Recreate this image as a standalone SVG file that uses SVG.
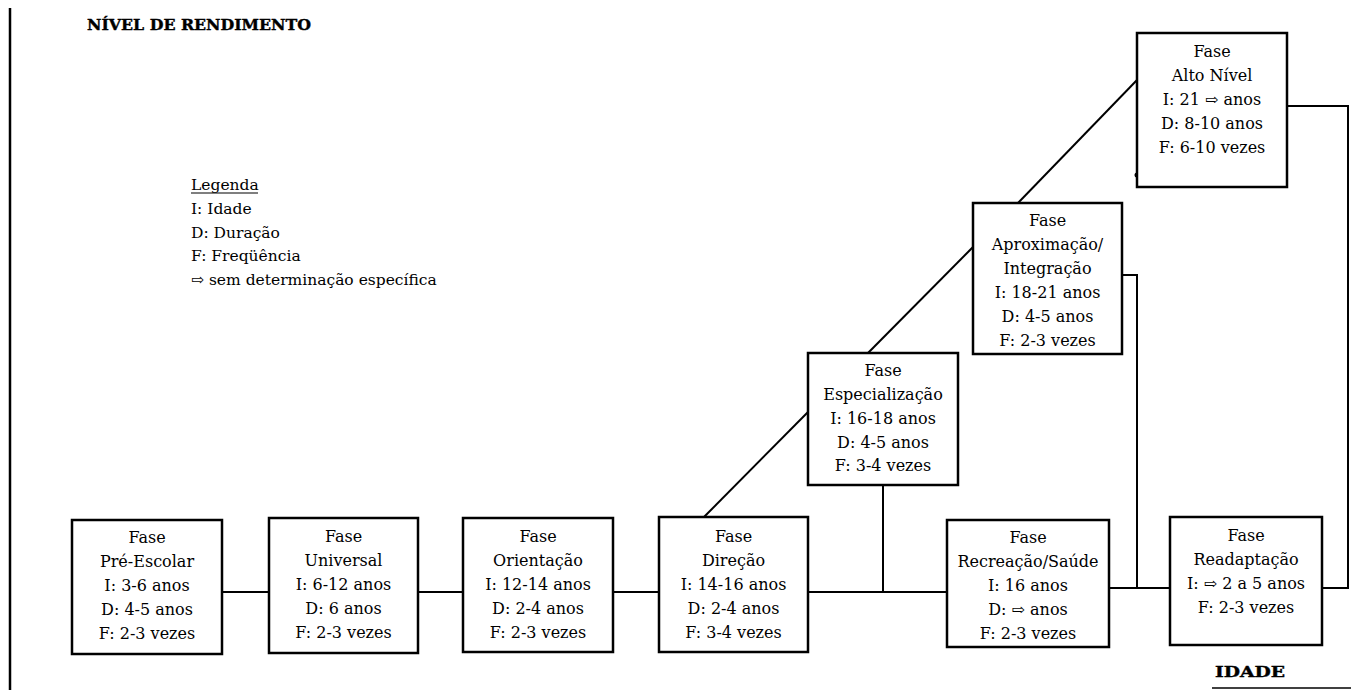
<svg xmlns="http://www.w3.org/2000/svg" width="1351" height="691" viewBox="0 0 1351 691">
<style>
.bg{fill:#ffffff}
.box{fill:#ffffff;stroke:#000;stroke-width:2.5}
.t{font-family:"DejaVu Serif","Liberation Serif",serif;font-size:16px;fill:#000;text-anchor:middle}
.lg{font-family:"DejaVu Serif","Liberation Serif",serif;font-size:15.5px;fill:#000}
.hd{font-family:"DejaVu Serif","Liberation Serif",serif;font-weight:bold;font-size:15px;fill:#000;stroke:#000;stroke-width:0.4}
.c{fill:none;stroke:#000;stroke-width:2}
.ax{fill:none;stroke:#000;stroke-width:2.5}
</style>
<rect class="bg" x="0" y="0" width="1351" height="691"/>
<g id="axes">
  <line class="ax" x1="10" y1="8" x2="10" y2="690"/>
  <text class="hd" x="87" y="30" textLength="224" lengthAdjust="spacingAndGlyphs">NÍVEL DE RENDIMENTO</text>
  <text class="hd" x="1215" y="677" textLength="70" lengthAdjust="spacingAndGlyphs">IDADE</text>
  <line x1="1212" y1="688" x2="1351" y2="688" stroke="#000" stroke-width="1.5"/>
</g>
<g id="legend">
  <text class="lg" x="191" y="190">Legenda</text>
  <line x1="191" y1="193" x2="258" y2="193" stroke="#000" stroke-width="1.2"/>
  <text class="lg" x="191" y="214">I: Idade</text>
  <text class="lg" x="191" y="238">D: Duração</text>
  <text class="lg" x="191" y="261">F: Freqüência</text>
  <text class="lg" x="191" y="285">⇨ sem determinação específica</text>
</g>
<g id="connectors">
  <path class="c" d="M222,592 H269"/>
  <path class="c" d="M418,592 H463"/>
  <path class="c" d="M613,592 H659"/>
  <path class="c" d="M808,592 H947"/>
  <path class="c" d="M883,485 V592"/>
  <path class="c" d="M1109,588 H1170"/>
  <path class="c" d="M1122,275 H1137 V588"/>
  <path class="c" d="M704,517 L808,412"/>
  <path class="c" d="M868,353 L973,247"/>
  <path class="c" d="M1018,203 L1137,80"/>
  <path class="c" d="M1287,106 H1348 V588 H1322"/>
  <circle cx="1137" cy="175" r="2.5" fill="#000"/>
</g>
<g id="fase-pre-escolar">
  <rect class="box" x="72" y="520" width="150" height="134"/>
  <text class="t" x="147" y="543">Fase</text>
  <text class="t" x="147" y="567">Pré-Escolar</text>
  <text class="t" x="147" y="591">I: 3-6 anos</text>
  <text class="t" x="147" y="615">D: 4-5 anos</text>
  <text class="t" x="147" y="639">F: 2-3 vezes</text>
</g>
<g id="fase-universal">
  <rect class="box" x="269" y="518" width="149" height="135"/>
  <text class="t" x="343.5" y="542">Fase</text>
  <text class="t" x="343.5" y="566">Universal</text>
  <text class="t" x="343.5" y="590">I: 6-12 anos</text>
  <text class="t" x="343.5" y="614">D: 6 anos</text>
  <text class="t" x="343.5" y="638">F: 2-3 vezes</text>
</g>
<g id="fase-orientacao">
  <rect class="box" x="463" y="518" width="150" height="134"/>
  <text class="t" x="538" y="542">Fase</text>
  <text class="t" x="538" y="566">Orientação</text>
  <text class="t" x="538" y="590">I: 12-14 anos</text>
  <text class="t" x="538" y="614">D: 2-4 anos</text>
  <text class="t" x="538" y="638">F: 2-3 vezes</text>
</g>
<g id="fase-direcao">
  <rect class="box" x="659" y="517" width="149" height="135"/>
  <text class="t" x="733.5" y="542">Fase</text>
  <text class="t" x="733.5" y="566">Direção</text>
  <text class="t" x="733.5" y="590">I: 14-16 anos</text>
  <text class="t" x="733.5" y="614">D: 2-4 anos</text>
  <text class="t" x="733.5" y="638">F: 3-4 vezes</text>
</g>
<g id="fase-especializacao">
  <rect class="box" x="808" y="353" width="150" height="132"/>
  <text class="t" x="883" y="376">Fase</text>
  <text class="t" x="883" y="400">Especialização</text>
  <text class="t" x="883" y="424">I: 16-18 anos</text>
  <text class="t" x="883" y="448">D: 4-5 anos</text>
  <text class="t" x="883" y="471">F: 3-4 vezes</text>
</g>
<g id="fase-aproximacao">
  <rect class="box" x="973" y="203" width="149" height="151"/>
  <text class="t" x="1047.5" y="226">Fase</text>
  <text class="t" x="1047.5" y="250">Aproximação/</text>
  <text class="t" x="1047.5" y="274">Integração</text>
  <text class="t" x="1047.5" y="298">I: 18-21 anos</text>
  <text class="t" x="1047.5" y="322">D: 4-5 anos</text>
  <text class="t" x="1047.5" y="346">F: 2-3 vezes</text>
</g>
<g id="fase-alto-nivel">
  <rect class="box" x="1137" y="33" width="150" height="154"/>
  <text class="t" x="1212" y="57">Fase</text>
  <text class="t" x="1212" y="81">Alto Nível</text>
  <text class="t" x="1212" y="105">I: 21 ⇨ anos</text>
  <text class="t" x="1212" y="129">D: 8-10 anos</text>
  <text class="t" x="1212" y="153">F: 6-10 vezes</text>
</g>
<g id="fase-recreacao">
  <rect class="box" x="947" y="520" width="162" height="127"/>
  <text class="t" x="1028" y="543">Fase</text>
  <text class="t" x="1028" y="567">Recreação/Saúde</text>
  <text class="t" x="1028" y="591">I: 16 anos</text>
  <text class="t" x="1028" y="615">D: ⇨ anos</text>
  <text class="t" x="1028" y="639">F: 2-3 vezes</text>
</g>
<g id="fase-readaptacao">
  <rect class="box" x="1170" y="517" width="152" height="128"/>
  <text class="t" x="1246" y="541">Fase</text>
  <text class="t" x="1246" y="565">Readaptação</text>
  <text class="t" x="1246" y="589">I: ⇨ 2 a 5 anos</text>
  <text class="t" x="1246" y="613">F: 2-3 vezes</text>
</g>
</svg>
